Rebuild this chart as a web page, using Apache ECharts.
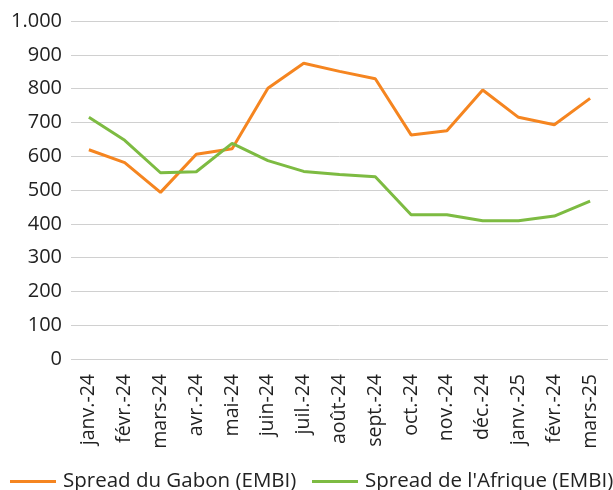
<!DOCTYPE html>
<html>
<head>
    <meta charset="utf-8">
    <script src="https://cdn.jsdelivr.net/npm/echarts@6/dist/echarts.min.js"></script>
    <style>
        body { margin: 0; background: #fff; }
    </style>
</head>
<body>
    <div id="main" style="width: 613px;height:490px;"></div>
    <script type="text/javascript">
        var months = ['janv.-24', 'févr.-24', 'mars-24', 'avr.-24', 'mai-24', 'juin-24', 'juil.-24',
            'août-24', 'sept.-24', 'oct.-24', 'nov.-24', 'déc.-24', 'janv.-25', 'févr.-24', 'mars-25'];
        var gabon = [619, 581, 493, 606, 622, 801, 875, 851, 829, 663, 675, 796, 715, 693, 771];
        var afrique = [715, 647, 551, 554, 638, 587, 555, 546, 539, 427, 427, 409, 409, 423, 467];

        var fontFam = '"Open Sans", "Noto Sans", sans-serif';

        // une légende par série pour garder tout sur une ligne
        function legendAt(left, name) {
            return {
                bottom: -2,
                left: left,
                padding: 0,
                itemWidth: 46,
                itemHeight: 3,
                itemGap: 0,
                icon: 'rect',
                textStyle: { fontSize: 20.5, color: '#222', fontFamily: fontFam, padding: [0, 0, 0, 2] },
                data: [name]
            };
        }

        var option = {
            animation: false,
            textStyle: { fontFamily: fontFam },
            legend: [
                legendAt(10, 'Spread du Gabon (EMBI)'),
                legendAt(312, "Spread de l'Afrique (EMBI)")
            ],
            grid: {
                left: 71,
                right: 5,
                top: 21,
                bottom: 131
            },
            xAxis: {
                type: 'category',
                boundaryGap: true,
                data: months,
                axisLine: { show: false },
                axisTick: { show: false },
                axisLabel: {
                    rotate: 90,
                    interval: 0,
                    margin: 15,
                    fontSize: 19.5,
                    color: '#222',
                    fontFamily: fontFam
                }
            },
            yAxis: {
                type: 'value',
                min: 0,
                max: 1000,
                interval: 100,
                axisLine: { show: false },
                axisTick: { show: false },
                splitLine: { lineStyle: { color: '#d0d0d0', width: 1 } },
                axisLabel: {
                    margin: 9,
                    fontSize: 20,
                    color: '#222',
                    fontFamily: fontFam,
                    formatter: function (v) {
                        return v >= 1000 ? (v / 1000) + '.' + ('00' + (v % 1000)).slice(-3) : String(v);
                    }
                }
            },
            series: [
                {
                    name: 'Spread du Gabon (EMBI)',
                    type: 'line',
                    symbol: 'none',
                    color: '#f58520',
                    lineStyle: { color: '#f58520', width: 3 },
                    data: gabon
                },
                {
                    name: "Spread de l'Afrique (EMBI)",
                    type: 'line',
                    symbol: 'none',
                    color: '#7dbb42',
                    lineStyle: { color: '#7dbb42', width: 3 },
                    data: afrique
                }
            ]
        };

        var myChart = echarts.init(document.getElementById('main'));
        myChart.setOption(option);
    </script>
</body>
</html>
